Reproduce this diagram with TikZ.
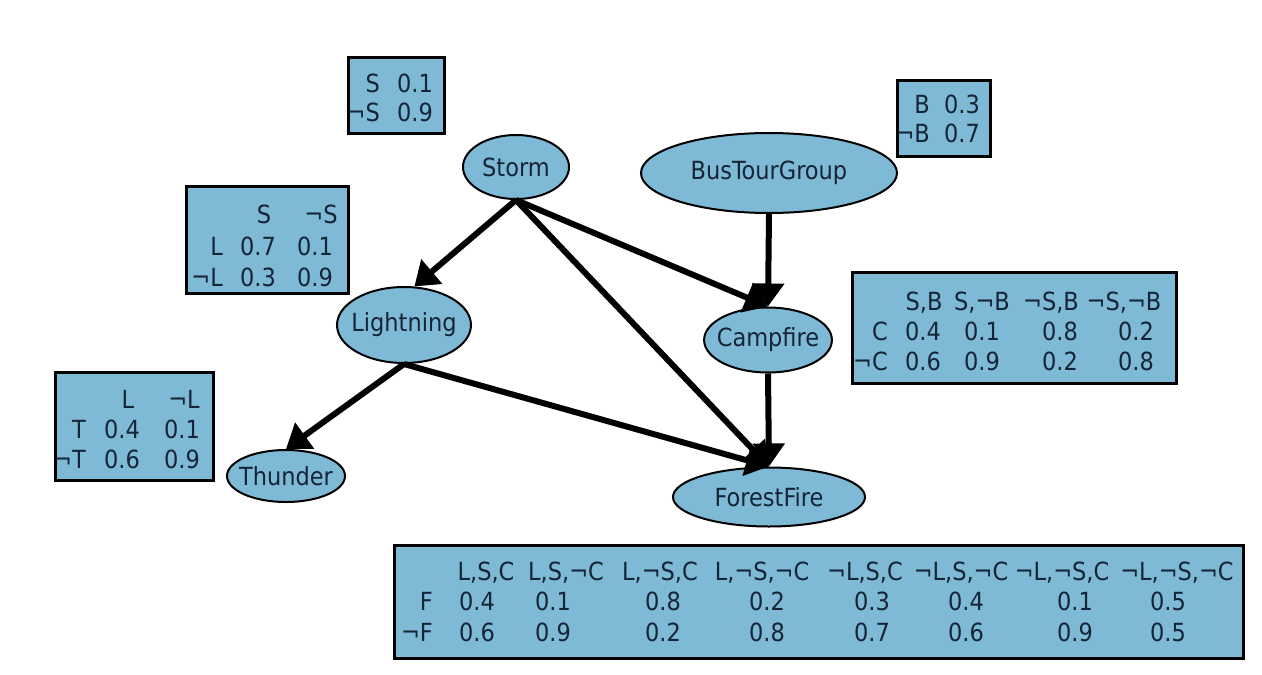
\documentclass[tikz,border=0pt]{standalone}
\usepackage{fontspec}
\setmainfont{DejaVu Sans Condensed}
\usetikzlibrary{shapes.geometric,arrows.meta}
\definecolor{bnfill}{RGB}{126,186,214}
\definecolor{bntext}{RGB}{22,36,56}
\tikzset{
  bnode/.style={ellipse, draw=black, line width=2pt, fill=bnfill, text=bntext, inner xsep=-6pt, inner ysep=0pt, font=\fontsize{25}{29}\selectfont},
  cpt/.style={rectangle, draw=black, line width=3pt, fill=bnfill, inner sep=0pt},
  cell/.style={text=bntext, inner sep=0pt, anchor=base, font=\fontsize{25}{29}\selectfont},
  lab/.style={cell, anchor=base east},
  edge/.style={line width=6pt, -{Triangle[length=23pt,width=31pt]}},
}
\begin{document}
\begin{tikzpicture}[x=1pt,y=-1pt]
\useasboundingbox (0,0) rectangle (1262,675);
\fill[white] (0,0) rectangle (1262,675);

% nodes
\node[bnode, minimum width=106pt, minimum height=64pt] (storm) at (516,167) {Storm};
\node[bnode, minimum width=256pt, minimum height=80pt] (bus) at (769,173) {BusTourGroup};
\node[bnode, minimum width=134pt, minimum height=76pt] (lightning) at (404,325) {Lightning};
\node[bnode, minimum width=126pt, minimum height=65pt] (campfire) at (768,340) {Campfire};
\node[bnode, minimum width=118pt, minimum height=52pt] (thunder) at (286,476) {Thunder};
\node[bnode, minimum width=192pt, minimum height=59pt] (ffire) at (769,497) {ForestFire};

% edges
\draw[edge] (storm.south) -- (lightning.75);
\draw[edge] (storm.south) -- (campfire.north);
\draw[edge] (storm.south) -- (ffire.north);
\draw[edge] (bus.south) -- (campfire.north);
\draw[edge] (lightning.south) -- (thunder.north);
\draw[edge] (lightning.south) -- (ffire.north);
\draw[edge] (campfire.south) -- (ffire.north);

% S prior
\node[cpt, minimum width=96pt, minimum height=76pt] (sbox) at (396,95) {};
\node[lab] (s1l) at (380,92) {S};
\node[cell] (s1v) at (415,92) {0.1};
\node[lab] (s2l) at (380,121) {¬S};
\node[cell] (s2v) at (415,121) {0.9};

% B prior
\node[cpt, minimum width=93pt, minimum height=76pt] (bbox) at (943.5,118) {};
\node[lab] (b1l) at (930,113) {B};
\node[cell] (b1v) at (962,113) {0.3};
\node[lab] (b2l) at (930,142) {¬B};
\node[cell] (b2v) at (962,142) {0.7};

% L table
\node[cpt, minimum width=162pt, minimum height=107pt] (lbox) at (267,239.5) {};
\node[cell] (lh1) at (264,223) {S};
\node[cell] (lh2) at (321,223) {¬S};
\node[lab] (lr1) at (223,255) {L};
\node[cell] (l11) at (258,255) {0.7};
\node[cell] (l12) at (315,255) {0.1};
\node[lab] (lr2) at (223,286) {¬L};
\node[cell] (l21) at (258,286) {0.3};
\node[cell] (l22) at (315,286) {0.9};

% T table
\node[cpt, minimum width=158pt, minimum height=108pt] (tbox) at (134,426) {};
\node[cell] (th1) at (128,408) {L};
\node[cell] (th2) at (184,408) {¬L};
\node[lab] (tr1) at (86,438) {T};
\node[cell] (t11) at (122,438) {0.4};
\node[cell] (t12) at (182,438) {0.1};
\node[lab] (tr2) at (86,468) {¬T};
\node[cell] (t21) at (122,468) {0.6};
\node[cell] (t22) at (182,468) {0.9};

% C table
\node[cpt, minimum width=324pt, minimum height=111pt] (cbox) at (1014,327.5) {};
\node[cell] (ch1) at (924,310) {S,B};
\node[cell] (ch2) at (982,310) {S,¬B};
\node[cell] (ch3) at (1051,310) {¬S,B};
\node[cell] (ch4) at (1124,310) {¬S,¬B};
\node[lab] (cr1) at (888,340) {C};
\node[cell] (c11) at (923,340) {0.4};
\node[cell] (c12) at (982,340) {0.1};
\node[cell] (c13) at (1060,340) {0.8};
\node[cell] (c14) at (1136,340) {0.2};
\node[lab] (cr2) at (888,370) {¬C};
\node[cell] (c21) at (923,370) {0.6};
\node[cell] (c22) at (982,370) {0.9};
\node[cell] (c23) at (1060,370) {0.2};
\node[cell] (c24) at (1136,370) {0.8};

% F table
\node[cpt, minimum width=849pt, minimum height=113pt] (fbox) at (818.5,601.5) {};
\node[cell] (fh1) at (486,580) {L,S,C};
\node[cell] (fh2) at (566,580) {L,S,¬C};
\node[cell] (fh3) at (660,580) {L,¬S,C};
\node[cell] (fh4) at (762,580) {L,¬S,¬C};
\node[cell] (fh5) at (865,580) {¬L,S,C};
\node[cell] (fh6) at (961,580) {¬L,S,¬C};
\node[cell] (fh7) at (1062,580) {¬L,¬S,C};
\node[cell] (fh8) at (1177,580) {¬L,¬S,¬C};
\node[lab] (fr1) at (433,610) {F};
\node[cell] (f11) at (477,610) {0.4};
\node[cell] (f12) at (553,610) {0.1};
\node[cell] (f13) at (663,610) {0.8};
\node[cell] (f14) at (767,610) {0.2};
\node[cell] (f15) at (872,610) {0.3};
\node[cell] (f16) at (966,610) {0.4};
\node[cell] (f17) at (1075,610) {0.1};
\node[cell] (f18) at (1168,610) {0.5};
\node[lab] (fr2) at (433,641) {¬F};
\node[cell] (f21) at (477,641) {0.6};
\node[cell] (f22) at (553,641) {0.9};
\node[cell] (f23) at (663,641) {0.2};
\node[cell] (f24) at (767,641) {0.8};
\node[cell] (f25) at (872,641) {0.7};
\node[cell] (f26) at (966,641) {0.6};
\node[cell] (f27) at (1075,641) {0.9};
\node[cell] (f28) at (1168,641) {0.5};
\end{tikzpicture}
\end{document}
